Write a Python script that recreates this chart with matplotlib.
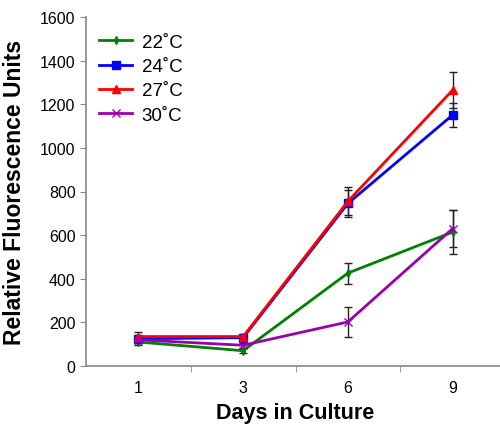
import matplotlib
matplotlib.use('Agg')
import matplotlib.pyplot as plt
import numpy as np

plt.rcParams['font.family'] = ['Liberation Sans', 'DejaVu Sans']

# dagen en meetwaarden
days = ['1', '3', '6', '9']
temp_labels = ['22˚C', '24˚C', '27˚C', '30˚C']
rfu_22 = [110, 70, 426, 614]
rfu_24 = [125, 130, 745, 1151]
rfu_27 = [135, 135, 755, 1265]
rfu_30 = [120, 95, 202, 630]
err_22 = [15, 12, 48, 100]
err_24 = [15, 12, 60, 55]
err_27 = [20, 12, 65, 83]
err_30 = [15, 12, 67, 85]

colors = ['#008000', '#0000ff', '#ff0000', '#9900aa']
markers = ['d', 's', '^', 'x']
sizes = [4, 6, 6, 6]

fig = plt.figure(figsize=(5, 4.27), dpi=100)
ax = fig.add_axes([86 / 500, 60 / 427, 419 / 500, 349 / 427])

x = np.arange(len(days))
series = [rfu_22, rfu_24, rfu_27, rfu_30]
errors = [err_22, err_24, err_27, err_30]
handles = []
for vals, errs, c, m, s, lab in zip(series, errors, colors, markers, sizes, temp_labels):
    eb = ax.errorbar(x, vals, yerr=errs, color=c, marker=m, markersize=s, lw=2,
                     ecolor='#222222', elinewidth=1, capsize=3, label=lab)
    handles.append(eb[0])

ax.set_xlim(-0.5, 3.5)
ax.set_ylim(0, 1600)
ax.set_yticks(range(0, 1601, 200))
ax.set_xticks(x)
ax.set_xticklabels(days)
ax.set_xticks(x[:-1] + 0.5, minor=True)
ax.tick_params(axis='x', which='major', length=0, pad=10, labelsize=11.5)
ax.tick_params(axis='x', which='minor', length=4, color='#888888')
ax.tick_params(axis='y', length=4, color='#888888', labelsize=11.5)

for sp in ['top', 'right']:
    ax.spines[sp].set_visible(False)
for sp in ['left', 'bottom']:
    ax.spines[sp].set_color('#888888')
    ax.spines[sp].set_linewidth(1.2)

ax.set_xlabel('Days in Culture', fontsize=15.5, fontweight='bold', labelpad=5)
ax.set_ylabel('Relative Fluorescence Units', fontsize=16.5, fontweight='bold', labelpad=10)

ax.legend(handles, temp_labels, loc='upper left', frameon=False, fontsize=13.5,
          handlelength=1.8, bbox_to_anchor=(-0.01, 1.0), labelspacing=0.38,
          handletextpad=0.5)

fig.savefig('out.png', dpi=100)
